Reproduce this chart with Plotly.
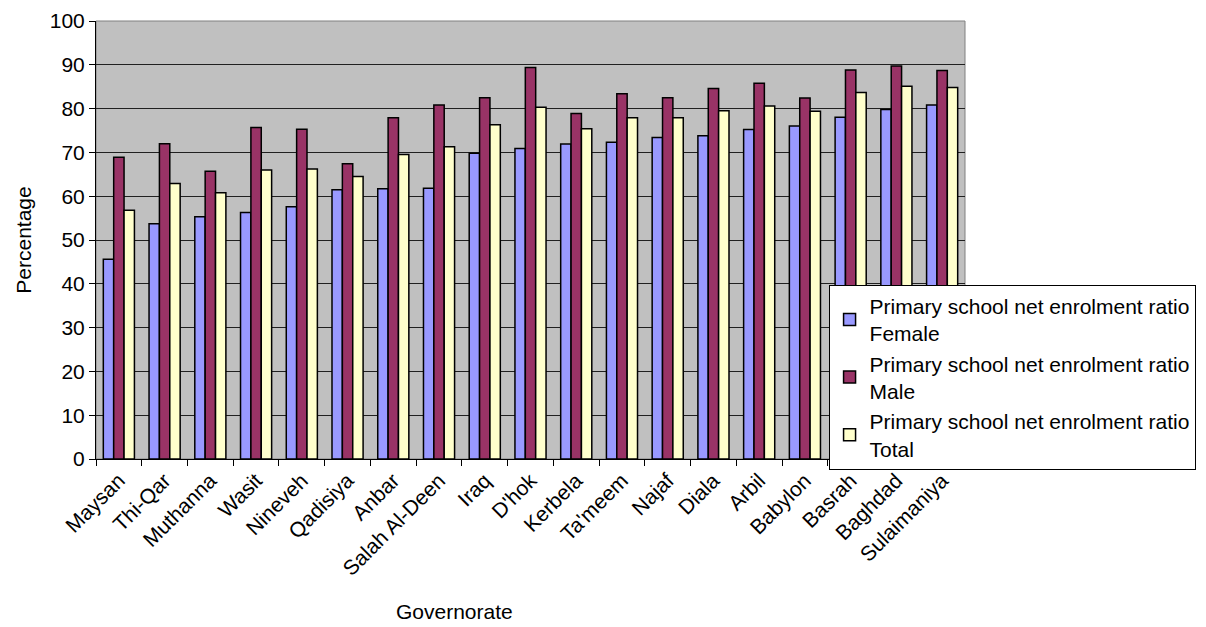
import plotly.graph_objects as go

governorates = ["Maysan", "Thi-Qar", "Muthanna", "Wasit", "Nineveh", "Qadisiya", "Anbar",
                "Salah Al-Deen", "Iraq", "D'hok", "Kerbela", "Ta'meem", "Najaf", "Diala",
                "Arbil", "Babylon", "Basrah", "Baghdad", "Sulaimaniya"]
female = [45.6, 53.7, 55.3, 56.3, 57.6, 61.5, 61.7, 61.8, 69.8, 70.9, 71.9, 72.3, 73.4, 73.8,
          75.2, 76.0, 78.0, 79.8, 80.8]
male = [68.9, 72.0, 65.7, 75.7, 75.3, 67.4, 77.9, 80.8, 82.5, 89.4, 78.9, 83.4, 82.5, 84.6,
        85.8, 82.4, 88.8, 89.7, 88.7]
total = [56.8, 62.9, 60.8, 66.0, 66.2, 64.5, 69.5, 71.3, 76.3, 80.3, 75.4, 77.9, 77.9, 79.5,
         80.6, 79.4, 83.7, 85.1, 84.8]

series = [
    ("Primary school net enrolment ratio<br>Female", female, "#9999FF"),
    ("Primary school net enrolment ratio<br>Male", male, "#993366"),
    ("Primary school net enrolment ratio<br>Total", total, "#FFFFCC"),
]

fig = go.Figure()
for name, vals, color in series:
    fig.add_trace(go.Bar(x=governorates, y=vals, name=name,
                         marker=dict(color=color, line=dict(color="black", width=1.5))))

font = "Liberation Sans, Arial, sans-serif"
fig.update_layout(
    width=1206, height=627,
    margin=dict(l=96, r=241, t=21, b=168, autoexpand=False),
    barmode="group", bargap=0.32, bargroupgap=0,
    plot_bgcolor="#C0C0C0", paper_bgcolor="white",
    font=dict(family=font, size=21, color="black"),
    showlegend=True,
    legend=dict(x=0.843, y=0.398, xanchor="left", yanchor="top",
                bgcolor="white", bordercolor="black", borderwidth=1,
                font=dict(size=21), tracegroupgap=0, itemwidth=30),
    xaxis=dict(automargin=False,
               tickangle=-45, ticks="outside", tickson="boundaries", ticklen=6,
               tickcolor="black", showline=True, linecolor="black", linewidth=1,
               mirror=False, showgrid=False, tickfont=dict(size=21)),
    yaxis=dict(title=dict(text="Percentage", font=dict(size=21), standoff=12),
               automargin=False,
               range=[0, 100], dtick=10, ticks="outside", ticklen=6, tickcolor="black",
               showline=True, linecolor="black", linewidth=1,
               showgrid=True, gridcolor="#202020", gridwidth=1, zeroline=False,
               tickfont=dict(size=21)),
    annotations=[dict(text="Governorate", xref="paper", yref="paper", x=0.413, y=-0.349,
                      xanchor="center", yanchor="middle", showarrow=False,
                      font=dict(size=21))],
)
# plot area border (top/right gray)
fig.add_shape(type="rect", xref="paper", yref="paper", x0=0, y0=0, x1=1, y1=1,
              line=dict(color="#808080", width=1), layer="below")

fig.write_html("out.html")
